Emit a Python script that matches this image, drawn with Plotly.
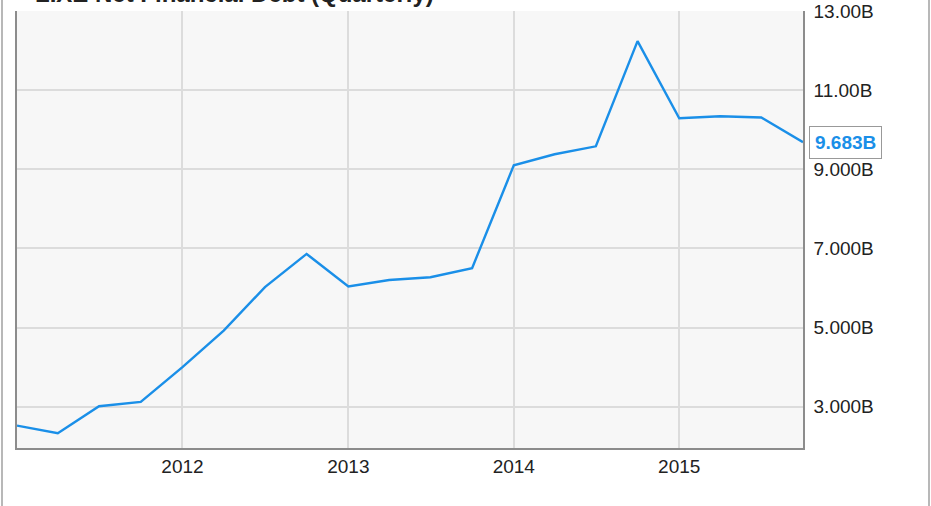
import plotly.graph_objects as go

title_text = "LIXE Net Financial Debt (Quarterly)"
quarters = ["2011-01-01", "2011-04-01", "2011-07-01", "2011-10-01",
            "2012-01-01", "2012-04-01", "2012-07-01", "2012-10-01",
            "2013-01-01", "2013-04-01", "2013-07-01", "2013-10-01",
            "2014-01-01", "2014-04-01", "2014-07-01", "2014-10-01",
            "2015-01-01", "2015-04-01", "2015-07-01", "2015-10-01"]
debt_b = [2.52, 2.33, 3.01, 3.12,
          4.00, 4.92, 6.02, 6.86,
          6.04, 6.20, 6.27, 6.50,
          9.10, 9.38, 9.58, 12.24,
          10.29, 10.34, 10.31, 9.683]
y_tickvals = [3, 5, 7, 9, 11, 13]
y_ticktext = ["3.000B", "5.000B", "7.000B", "9.000B", "11.00B", "13.00B"]
x_tickvals = ["2012-01-01", "2013-01-01", "2014-01-01", "2015-01-01"]
x_ticktext = ["2012", "2013", "2014", "2015"]
last_label = "9.683B"

blue = "#1a8fe8"
font = "Liberation Sans, Arial, sans-serif"
PW = 786  # plot width in px

fig = go.Figure()
fig.add_trace(go.Scatter(x=quarters, y=debt_b, mode="lines",
                         line=dict(color=blue, width=2.4), hoverinfo="skip"))

fig.update_layout(
    width=931, height=506,
    margin=dict(l=17, r=128, t=11, b=58, autoexpand=False),
    paper_bgcolor="white", plot_bgcolor="#f7f7f7",
    showlegend=False,
    font=dict(family=font, size=14, color="#333333"),
    xaxis=dict(range=[quarters[0], quarters[-1]], tickvals=x_tickvals, ticktext=x_ticktext,
               showgrid=True, gridcolor="#dcdcdc", gridwidth=1.5, automargin=False,
               showline=True, linecolor="#8c8c8c", linewidth=1.5, mirror=False,
               ticks="", zeroline=False, ticklabelstandoff=0,
               tickfont=dict(size=19, color="#222")),
    yaxis=dict(range=[1.955, 13.0], side="right", tickvals=y_tickvals, ticktext=y_ticktext,
               showgrid=True, gridcolor="#dcdcdc", gridwidth=1.5, automargin=False,
               showline=True, linecolor="#8c8c8c", linewidth=1.5, mirror=True,
               ticks="", zeroline=False, ticklabelstandoff=5,
               tickfont=dict(size=19, color="#222")),
)

# outer frame lines
fig.add_shape(type="line", xref="paper", yref="paper", x0=-15/PW, x1=-15/PW, y0=-1, y1=2,
              line=dict(color="#a0a0a0", width=1.5))
fig.add_shape(type="line", xref="paper", yref="paper", x0=1 + 126/PW, x1=1 + 126/PW, y0=-1, y1=2,
              line=dict(color="#a0a0a0", width=1.5))

# cut-off title
fig.add_annotation(text="<b>" + title_text + "</b>", xref="paper", yref="paper",
                   x=16/PW, y=1, xanchor="left", yanchor="bottom", yshift=2,
                   showarrow=False, font=dict(size=24, color="#222", family=font))

# last value label with pointer
fig.add_annotation(text="<b>" + last_label + "</b>", x=quarters[-1], y=debt_b[-1],
                   xanchor="left", yanchor="middle", xshift=6, showarrow=False,
                   font=dict(size=19, color=blue, family=font),
                   bgcolor="white", bordercolor="#999999", borderwidth=1, borderpad=5)
fig.add_shape(type="path", xref="x", yref="y", xsizemode="pixel", ysizemode="pixel",
              xanchor=quarters[-1], yanchor=debt_b[-1],
              path="M 7 -7 L 0 0 L 7 7", line=dict(color="#999999", width=1),
              fillcolor="white")

fig.write_html("out.html", config={"displayModeBar": False},
               post_script="document.body.style.margin='0';document.body.style.overflow='hidden';")
